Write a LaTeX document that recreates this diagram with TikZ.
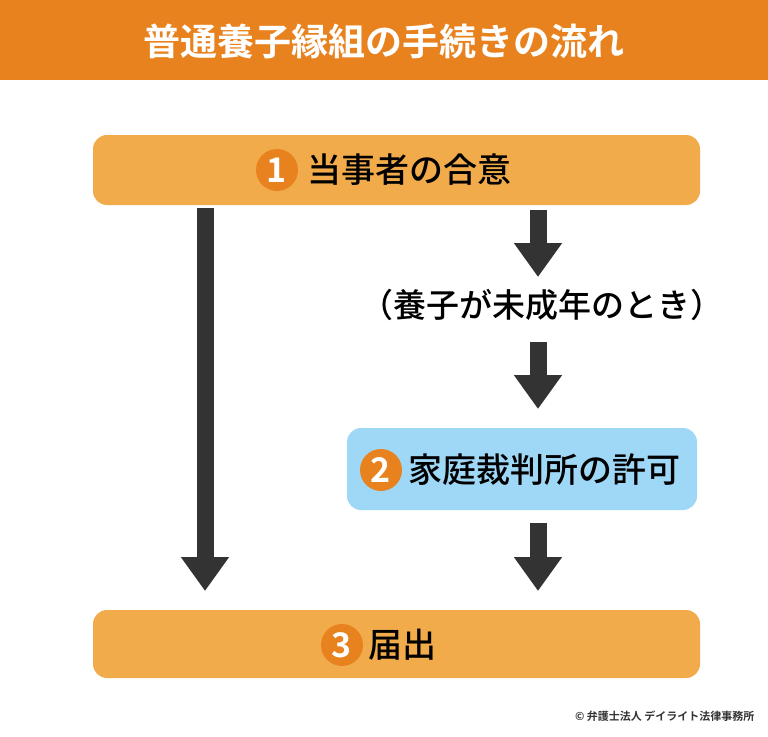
\documentclass[tikz,border=0pt]{standalone}
\usepackage{fontspec}
\setmainfont{Noto Sans CJK JP Medium}
\newfontfamily\cjkbold{Noto Sans CJK JP Bold}
\usetikzlibrary{arrows.meta,positioning}
\definecolor{headorange}{HTML}{E8821E}
\definecolor{boxorange}{HTML}{F2AB4B}
\definecolor{boxblue}{HTML}{9FD8F6}
\definecolor{arrowgray}{HTML}{333333}
\begin{document}
\begin{tikzpicture}[x=1pt,y=-1pt,
    stepbox/.style={rounded corners=14pt,inner sep=0pt},
    num/.style={circle,fill=headorange,text=white,minimum size=42pt,inner sep=0pt,font=\fontsize{34}{34}\cjkbold},
    steptext/.style={font=\fontsize{34}{34}\selectfont,anchor=west},
    flow/.style={arrowgray,line width=17pt,-{Triangle[width=46pt,length=34pt]}}]
  \useasboundingbox (0,0) rectangle (768,736);
  \fill[headorange] (0,0) rectangle (768,80);
  \node[text=white,font=\fontsize{37}{37}\cjkbold] (title) at (384,41) {普通養子縁組の手続きの流れ};
  % steps
  \node[stepbox,fill=boxorange,minimum width=607pt,minimum height=70pt] (s1) at (396.5,170) {};
  \node[stepbox,fill=boxblue,minimum width=350pt,minimum height=82pt] (s2) at (522,469) {};
  \node[stepbox,fill=boxorange,minimum width=607pt,minimum height=68pt] (s3) at (396.5,644) {};
  \node[num] (n1) at (277,170) {1};
  \node[steptext,right=6pt of n1] (t1) {当事者の合意};
  \node[num] (n2) at (381,470) {2};
  \node[steptext,right=3pt of n2] (t2) {家庭裁判所の許可};
  \node[num] (n3) at (342,645) {3};
  \node[steptext,right=2pt of n3] (t3) {届出};
  \node[font=\fontsize{33}{33}\selectfont] (cond) at (542,305) {（養子が未成年のとき）};
  % arrows
  \coordinate (l1) at (205,208);
  \coordinate (l2) at (205,591);
  \draw[flow] (l1) -- (l2);
  \coordinate (r1) at (538,210);
  \coordinate (r2) at (538,277);
  \draw[flow] (r1) -- (r2);
  \coordinate (r3) at (538,342);
  \coordinate (r4) at (538,409);
  \draw[flow] (r3) -- (r4);
  \coordinate (r5) at (538,523);
  \coordinate (r6) at (538,591);
  \draw[flow] (r5) -- (r6);
  \node[anchor=east,font=\fontsize{11}{11}\cjkbold,text=arrowgray] (copy) at (758,716) {© 弁護士法人 デイライト法律事務所};
\end{tikzpicture}
\end{document}
